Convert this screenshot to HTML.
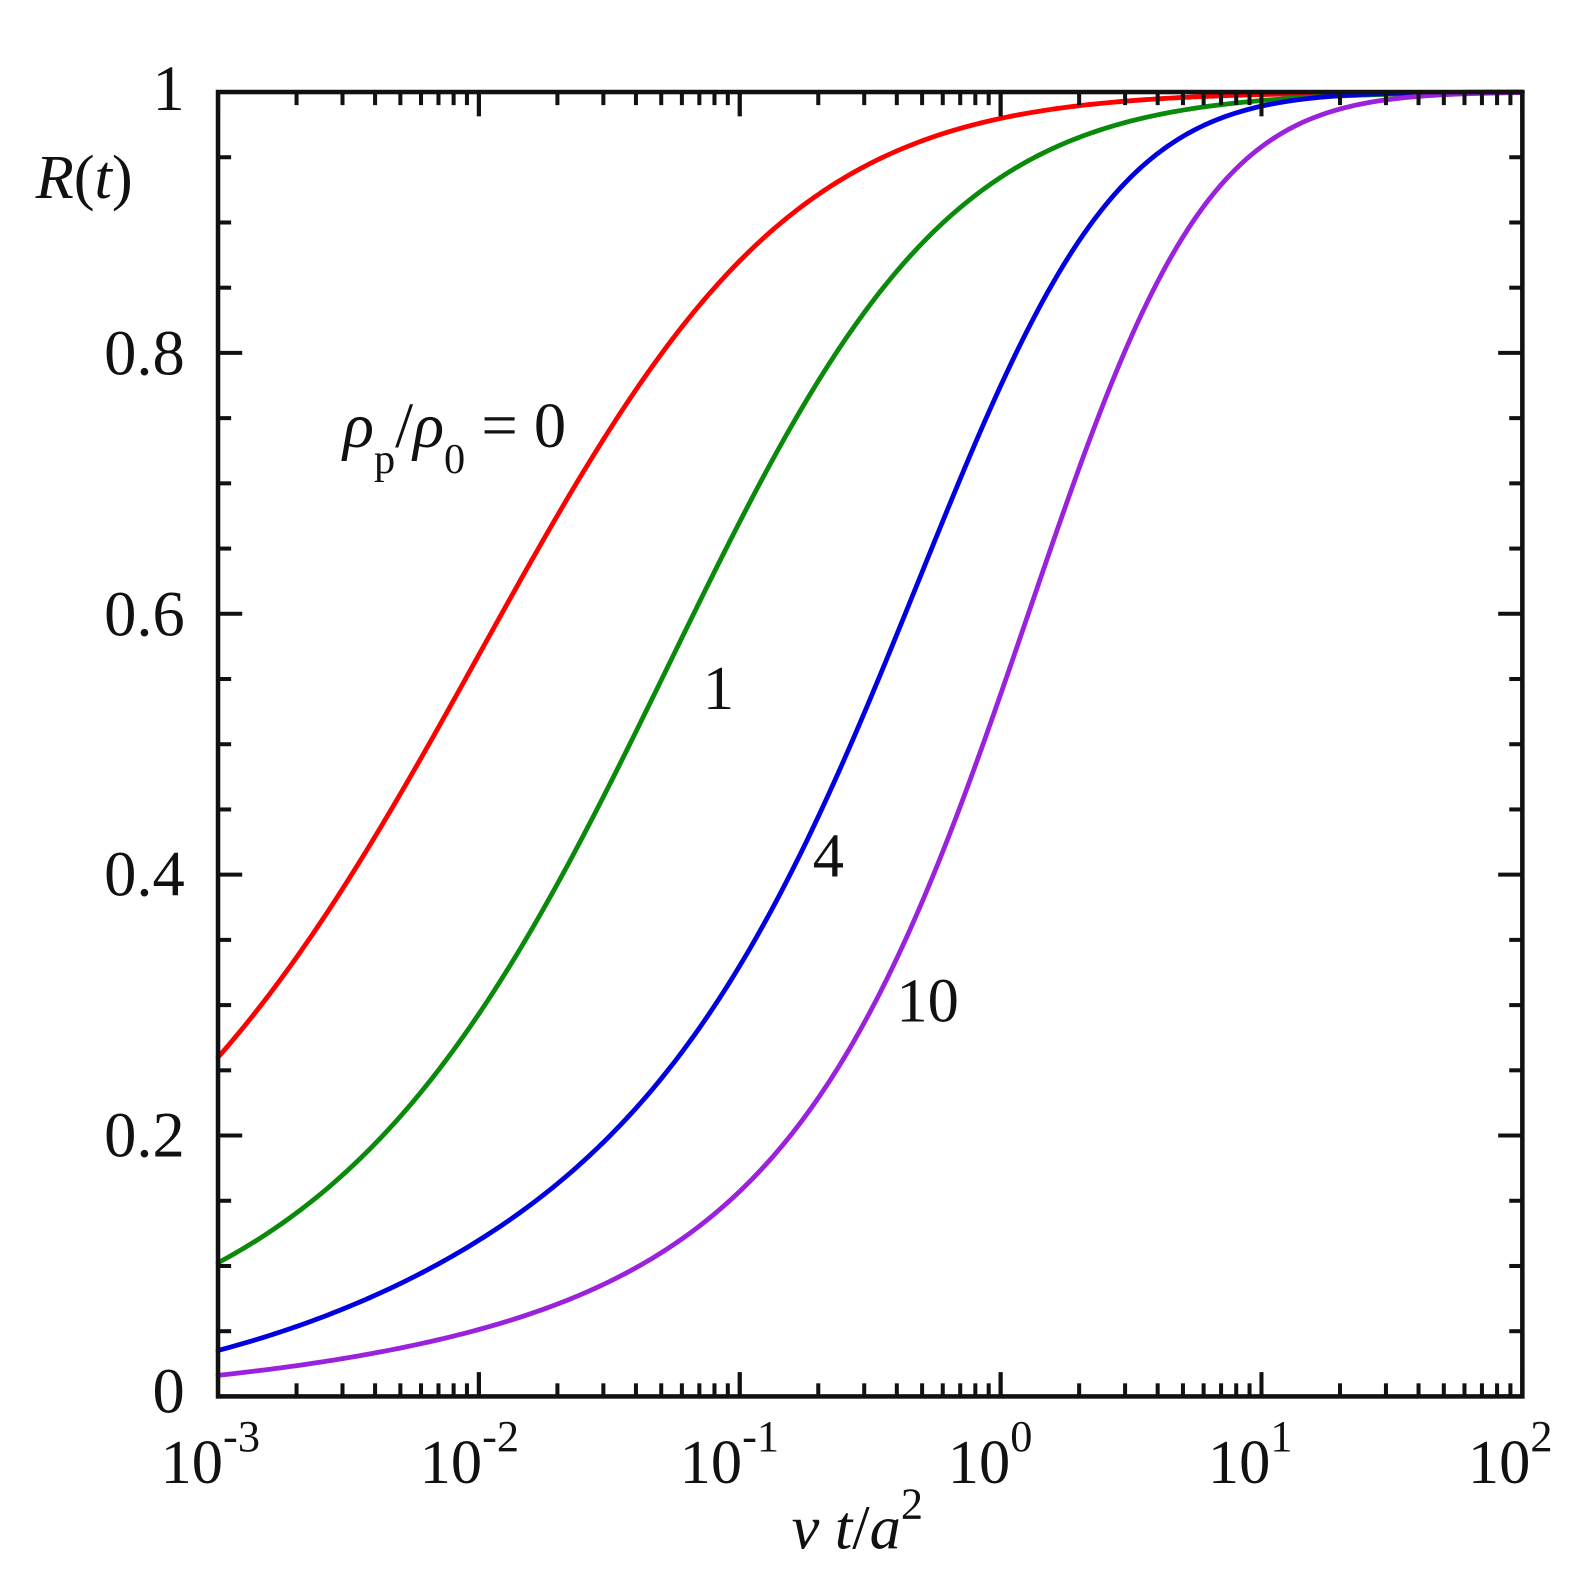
<!DOCTYPE html>
<html><head><meta charset="utf-8"><style>
html,body{margin:0;padding:0;background:#fff;}
svg{display:block;}
text{font-family:"Liberation Serif",serif;fill:#111;}
</style></head><body>
<svg id="s" width="1579" height="1582" viewBox="-0.3 -1.3 1566.5 1569.4" preserveAspectRatio="none" xmlns="http://www.w3.org/2000/svg">
<g id="curves" fill="none" stroke-width="4.8" stroke-linejoin="round" stroke-linecap="round" transform="translate(216,90) scale(0.99157,0.99233) translate(-218,-92)"></g>
<g id="ticks" stroke="#111" stroke-width="4"></g>
<rect x="216" y="90" width="1294" height="1294" fill="none" stroke="#111" stroke-width="4.5"/>
<g font-size="64" text-anchor="end">
<text x="183" y="1400">0</text>
<text x="183" y="1146">0.2</text>
<text x="183" y="887">0.4</text>
<text x="183" y="629">0.6</text>
<text x="183" y="370">0.8</text>
<text x="183" y="108">1</text>
</g>
<g font-size="62">
<text x="159" y="1470">10<tspan font-size="44" dy="-32">-3</tspan></text>
<text x="416" y="1470">10<tspan font-size="44" dy="-32">-2</tspan></text>
<text x="674" y="1470">10<tspan font-size="44" dy="-32">-1</tspan></text>
<text x="940" y="1470">10<tspan font-size="44" dy="-32">0</tspan></text>
<text x="1198" y="1470">10<tspan font-size="44" dy="-32">1</tspan></text>
<text x="1456" y="1470">10<tspan font-size="44" dy="-32">2</tspan></text>
</g>
<text x="785" y="1535" font-size="62"><tspan font-style="italic">ν t</tspan>/<tspan font-style="italic">a</tspan><tspan font-size="44" dy="-30">2</tspan></text>
<text x="35" y="195" font-size="62"><tspan font-style="italic">R</tspan>(<tspan font-style="italic">t</tspan>)</text>
<text x="340" y="442" font-size="64"><tspan font-style="italic">ρ</tspan><tspan font-size="42" dy="26">p</tspan><tspan dy="-26">/</tspan><tspan font-style="italic">ρ</tspan><tspan font-size="42" dy="26">0</tspan><tspan dy="-26"> = 0</tspan></text>
<text x="697" y="702" font-size="62">1</text>
<text x="806" y="868" font-size="62">4</text>
<text x="889" y="1012" font-size="62">10</text>
</svg>
<script>
var NS="http://www.w3.org/2000/svg";
var curves=[
["#ff0000",[-1.046,1.18,0.136,0.006]],
["#0a8a0a",[-2.17,1.160,0.1208,0.0097]],
["#0000e0",[-3.31,1.557,-0.3557,0.1139]],
["#9b22dd",[-4.11,1.3527,-0.2514,0.0914]]
];
var g=document.getElementById("curves");
curves.forEach(function(c){
 var k=c[1],d="";
 for(var i=0;i<=250;i++){var v=i*0.02;
  var L=k[0]+k[1]*v+k[2]*v*v+k[3]*v*v*v;var R=1/(1+Math.exp(-L));
  var X=218+261*v,Y=1396-1304*R;
  d+=(i?" L":"M")+X.toFixed(2)+","+Y.toFixed(2);}
 var e=document.createElementNS(NS,"path");e.setAttribute("d",d);e.setAttribute("stroke",c[0]);g.appendChild(e);
});
var t=document.getElementById("ticks"),s="";
function Ln(a,b,c,d){s+="<line x1='"+a+"' y1='"+b+"' x2='"+c+"' y2='"+d+"'/>";}
var dec=1294/5;
for(var k=0;k<5;k++){for(var m=1;m<=10;m++){var x=216+(k+Math.log10(m))*dec;var len=(m==1||m==10)?24:13;Ln(x,1384,x,1384-len);Ln(x,90,x,90+len);}}
for(var j=0;j<=20;j++){var y=1384-j*1294/20;var len=(j%4==0)?24:13;Ln(216,y,216+len,y);Ln(1510,y,1510-len,y);}
t.innerHTML=s;
</script>
</body></html>
